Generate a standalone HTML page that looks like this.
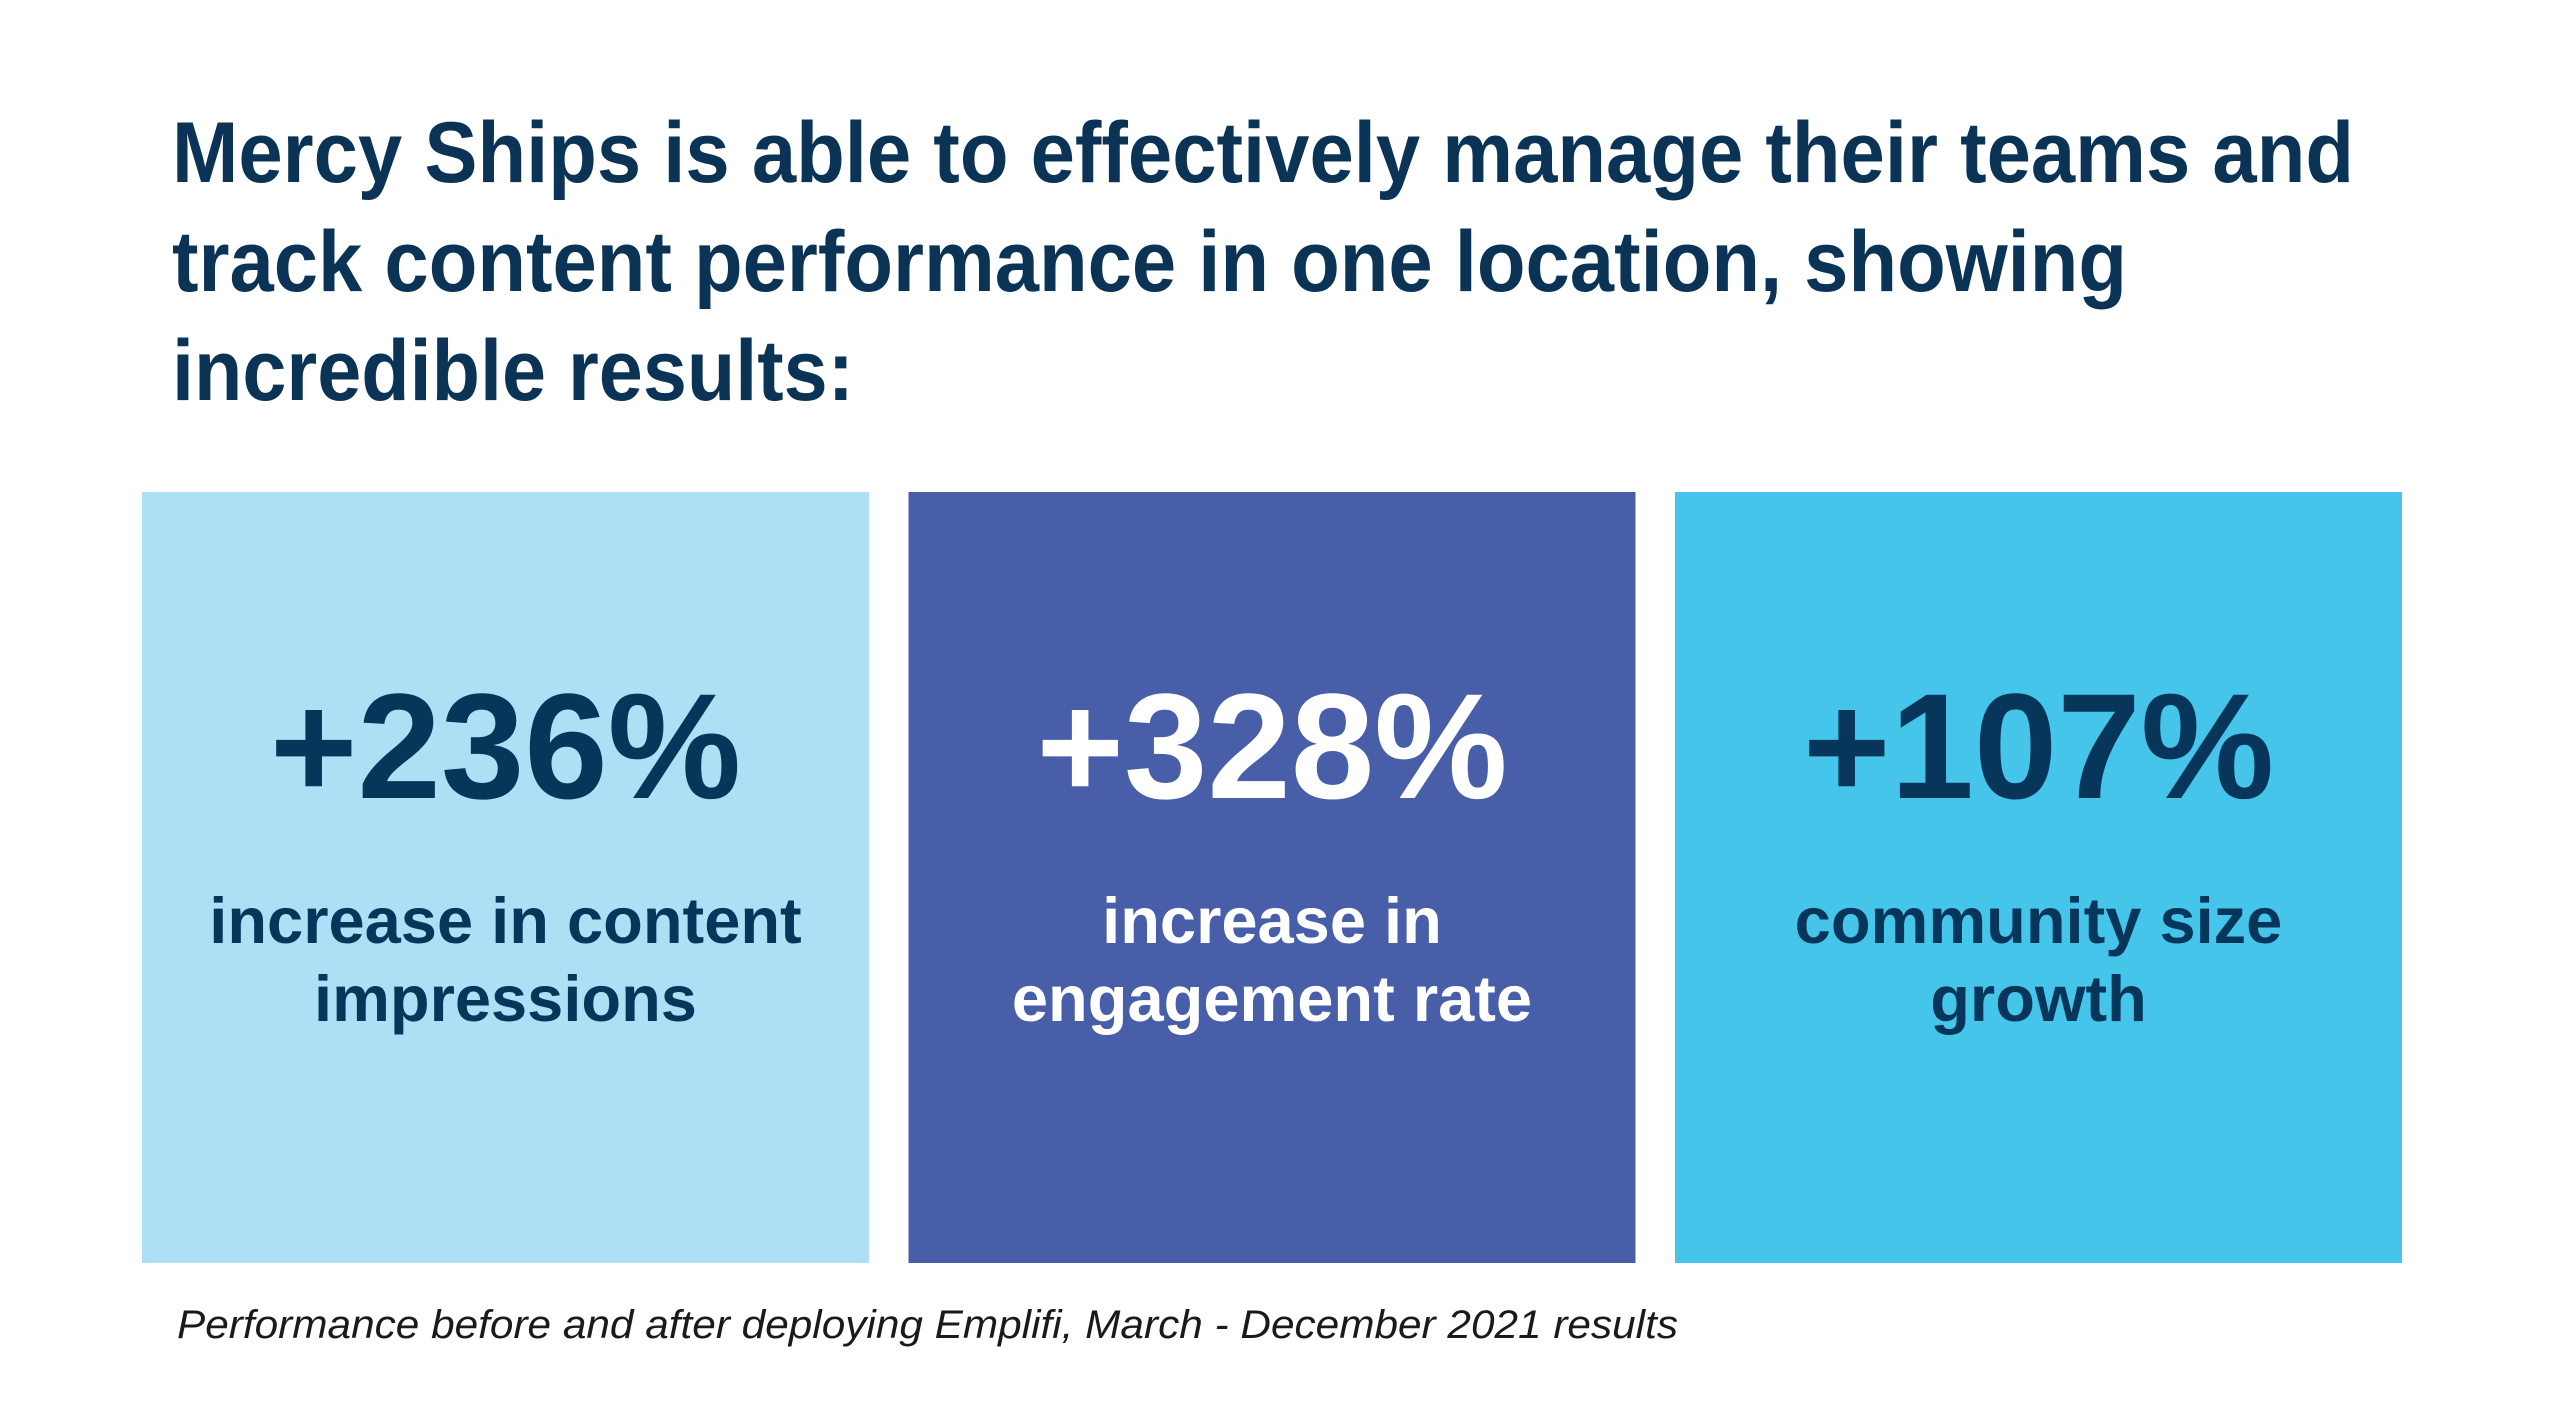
<!DOCTYPE html>
<html><head><meta charset="utf-8"><style>
html,body{margin:0;padding:0;background:#fff;}
svg{display:block;font-family:"Liberation Sans",Arial,sans-serif;}
</style></head><body>
<svg width="2558" height="1419" viewBox="0 0 2558 1419">
<rect width="2558" height="1419" fill="#fff"/>
<g fill="#0a3356" font-weight="bold" font-size="86">
<text x="172" y="182" textLength="2182" lengthAdjust="spacingAndGlyphs">Mercy Ships is able to effectively manage their teams and</text>
<text x="172" y="291" textLength="1955" lengthAdjust="spacingAndGlyphs">track content performance in one location, showing</text>
<text x="172" y="400" textLength="682" lengthAdjust="spacingAndGlyphs">incredible results:</text>
</g>
<g id="cards"></g>
<text x="177" y="1338" font-size="40" font-style="italic" fill="#1a1a1a" textLength="1501" lengthAdjust="spacingAndGlyphs">Performance before and after deploying Emplifi, March - December 2021 results</text>
</svg>
<script>
const values = ["+236%", "+328%", "+107%"];
const line1 = ["increase in content", "increase in", "community size"];
const line2 = ["impressions", "engagement rate", "growth"];
const fills = ["#ade0f5", "#485ea8", "#45c5ea"];
const inks = ["#07365a", "#ffffff", "#07365a"];
const svgNs = "http://www.w3.org/2000/svg";
const cardsG = document.getElementById("cards");
const cardX0 = 142, cardW = 727, cardStep = 766.5, cardTop = 492, cardBot = 1263;
values.forEach((v, i) => {
  const x = cardX0 + i * cardStep;
  const cx = x + cardW / 2;
  const r = document.createElementNS(svgNs, "rect");
  r.setAttribute("x", x); r.setAttribute("y", cardTop);
  r.setAttribute("width", cardW); r.setAttribute("height", cardBot - cardTop);
  r.setAttribute("fill", fills[i]);
  
  
  cardsG.appendChild(r);
  const t = document.createElementNS(svgNs, "text");
  t.setAttribute("x", cx); t.setAttribute("y", 798);
  t.setAttribute("text-anchor", "middle");
  t.setAttribute("font-size", "150"); t.setAttribute("font-weight", "bold");
  t.setAttribute("fill", inks[i]);
  t.textContent = v;
  
  
  cardsG.appendChild(t);
  [[line1[i], 943], [line2[i], 1021]].forEach(([s, y]) => {
    const l = document.createElementNS(svgNs, "text");
    l.setAttribute("x", cx); l.setAttribute("y", y);
    l.setAttribute("text-anchor", "middle");
    l.setAttribute("font-size", "65"); l.setAttribute("font-weight", "bold");
    l.setAttribute("fill", inks[i]);
    l.textContent = s;
    
    
    cardsG.appendChild(l);
  });
});
</script>
</body></html>
